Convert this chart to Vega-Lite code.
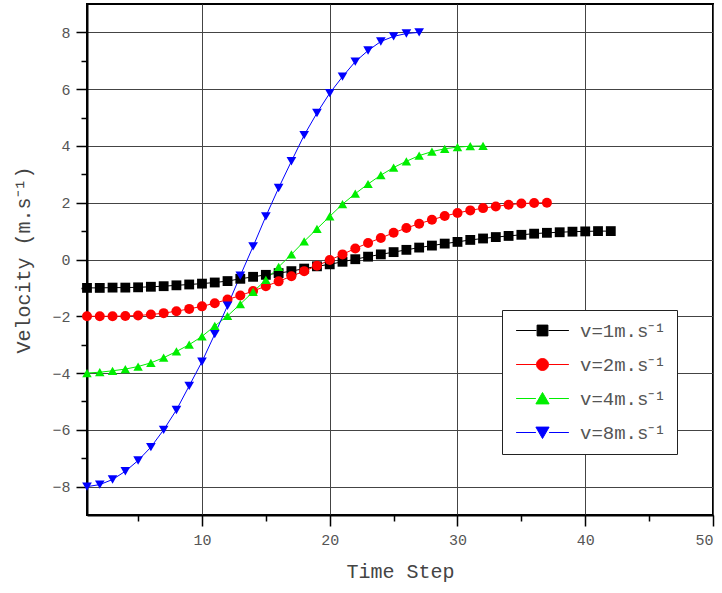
{
  "$schema": "https://vega.github.io/schema/vega-lite/v6.json",
  "width": 626,
  "height": 511,
  "autosize": "none",
  "padding": {"left": 87, "top": 4, "right": 9, "bottom": 78},
  "background": "white",
  "config": {
    "view": {"stroke": "black", "strokeWidth": 2},
    "font": "Liberation Mono"
  },
  "data": {"values": [
    {"s":"v=1m.s⁻¹","t":1,"v":-1.00},{"s":"v=1m.s⁻¹","t":2,"v":-1.00},{"s":"v=1m.s⁻¹","t":3,"v":-0.99},{"s":"v=1m.s⁻¹","t":4,"v":-0.99},{"s":"v=1m.s⁻¹","t":5,"v":-0.98},{"s":"v=1m.s⁻¹","t":6,"v":-0.96},{"s":"v=1m.s⁻¹","t":7,"v":-0.94},{"s":"v=1m.s⁻¹","t":8,"v":-0.91},{"s":"v=1m.s⁻¹","t":9,"v":-0.88},{"s":"v=1m.s⁻¹","t":10,"v":-0.85},{"s":"v=1m.s⁻¹","t":11,"v":-0.81},{"s":"v=1m.s⁻¹","t":12,"v":-0.76},{"s":"v=1m.s⁻¹","t":13,"v":-0.68},{"s":"v=1m.s⁻¹","t":14,"v":-0.61},{"s":"v=1m.s⁻¹","t":15,"v":-0.54},{"s":"v=1m.s⁻¹","t":16,"v":-0.48},{"s":"v=1m.s⁻¹","t":17,"v":-0.41},{"s":"v=1m.s⁻¹","t":18,"v":-0.32},{"s":"v=1m.s⁻¹","t":19,"v":-0.24},{"s":"v=1m.s⁻¹","t":20,"v":-0.17},{"s":"v=1m.s⁻¹","t":21,"v":-0.08},{"s":"v=1m.s⁻¹","t":22,"v":0.01},{"s":"v=1m.s⁻¹","t":23,"v":0.10},{"s":"v=1m.s⁻¹","t":24,"v":0.18},{"s":"v=1m.s⁻¹","t":25,"v":0.26},{"s":"v=1m.s⁻¹","t":26,"v":0.34},{"s":"v=1m.s⁻¹","t":27,"v":0.42},{"s":"v=1m.s⁻¹","t":28,"v":0.49},{"s":"v=1m.s⁻¹","t":29,"v":0.56},{"s":"v=1m.s⁻¹","t":30,"v":0.62},{"s":"v=1m.s⁻¹","t":31,"v":0.69},{"s":"v=1m.s⁻¹","t":32,"v":0.74},{"s":"v=1m.s⁻¹","t":33,"v":0.79},{"s":"v=1m.s⁻¹","t":34,"v":0.83},{"s":"v=1m.s⁻¹","t":35,"v":0.87},{"s":"v=1m.s⁻¹","t":36,"v":0.91},{"s":"v=1m.s⁻¹","t":37,"v":0.94},{"s":"v=1m.s⁻¹","t":38,"v":0.96},{"s":"v=1m.s⁻¹","t":39,"v":0.98},{"s":"v=1m.s⁻¹","t":40,"v":0.99},{"s":"v=1m.s⁻¹","t":41,"v":1.00},{"s":"v=1m.s⁻¹","t":42,"v":1.00},
    {"s":"v=2m.s⁻¹","t":1,"v":-2.00},{"s":"v=2m.s⁻¹","t":2,"v":-2.00},{"s":"v=2m.s⁻¹","t":3,"v":-2.00},{"s":"v=2m.s⁻¹","t":4,"v":-1.99},{"s":"v=2m.s⁻¹","t":5,"v":-1.97},{"s":"v=2m.s⁻¹","t":6,"v":-1.94},{"s":"v=2m.s⁻¹","t":7,"v":-1.89},{"s":"v=2m.s⁻¹","t":8,"v":-1.82},{"s":"v=2m.s⁻¹","t":9,"v":-1.74},{"s":"v=2m.s⁻¹","t":10,"v":-1.65},{"s":"v=2m.s⁻¹","t":11,"v":-1.54},{"s":"v=2m.s⁻¹","t":12,"v":-1.41},{"s":"v=2m.s⁻¹","t":13,"v":-1.27},{"s":"v=2m.s⁻¹","t":14,"v":-1.11},{"s":"v=2m.s⁻¹","t":15,"v":-0.94},{"s":"v=2m.s⁻¹","t":16,"v":-0.77},{"s":"v=2m.s⁻¹","t":17,"v":-0.59},{"s":"v=2m.s⁻¹","t":18,"v":-0.41},{"s":"v=2m.s⁻¹","t":19,"v":-0.22},{"s":"v=2m.s⁻¹","t":20,"v":-0.02},{"s":"v=2m.s⁻¹","t":21,"v":0.18},{"s":"v=2m.s⁻¹","t":22,"v":0.39},{"s":"v=2m.s⁻¹","t":23,"v":0.58},{"s":"v=2m.s⁻¹","t":24,"v":0.76},{"s":"v=2m.s⁻¹","t":25,"v":0.94},{"s":"v=2m.s⁻¹","t":26,"v":1.11},{"s":"v=2m.s⁻¹","t":27,"v":1.26},{"s":"v=2m.s⁻¹","t":28,"v":1.40},{"s":"v=2m.s⁻¹","t":29,"v":1.53},{"s":"v=2m.s⁻¹","t":30,"v":1.64},{"s":"v=2m.s⁻¹","t":31,"v":1.73},{"s":"v=2m.s⁻¹","t":32,"v":1.81},{"s":"v=2m.s⁻¹","t":33,"v":1.87},{"s":"v=2m.s⁻¹","t":34,"v":1.93},{"s":"v=2m.s⁻¹","t":35,"v":1.97},{"s":"v=2m.s⁻¹","t":36,"v":1.99},{"s":"v=2m.s⁻¹","t":37,"v":2.00},
    {"s":"v=4m.s⁻¹","t":1,"v":-4.00},{"s":"v=4m.s⁻¹","t":2,"v":-3.97},{"s":"v=4m.s⁻¹","t":3,"v":-3.92},{"s":"v=4m.s⁻¹","t":4,"v":-3.86},{"s":"v=4m.s⁻¹","t":5,"v":-3.77},{"s":"v=4m.s⁻¹","t":6,"v":-3.64},{"s":"v=4m.s⁻¹","t":7,"v":-3.46},{"s":"v=4m.s⁻¹","t":8,"v":-3.24},{"s":"v=4m.s⁻¹","t":9,"v":-3.00},{"s":"v=4m.s⁻¹","t":10,"v":-2.71},{"s":"v=4m.s⁻¹","t":11,"v":-2.34},{"s":"v=4m.s⁻¹","t":12,"v":-1.99},{"s":"v=4m.s⁻¹","t":13,"v":-1.57},{"s":"v=4m.s⁻¹","t":14,"v":-1.14},{"s":"v=4m.s⁻¹","t":15,"v":-0.72},{"s":"v=4m.s⁻¹","t":16,"v":-0.26},{"s":"v=4m.s⁻¹","t":17,"v":0.18},{"s":"v=4m.s⁻¹","t":18,"v":0.64},{"s":"v=4m.s⁻¹","t":19,"v":1.08},{"s":"v=4m.s⁻¹","t":20,"v":1.52},{"s":"v=4m.s⁻¹","t":21,"v":1.95},{"s":"v=4m.s⁻¹","t":22,"v":2.32},{"s":"v=4m.s⁻¹","t":23,"v":2.66},{"s":"v=4m.s⁻¹","t":24,"v":2.97},{"s":"v=4m.s⁻¹","t":25,"v":3.24},{"s":"v=4m.s⁻¹","t":26,"v":3.46},{"s":"v=4m.s⁻¹","t":27,"v":3.66},{"s":"v=4m.s⁻¹","t":28,"v":3.80},{"s":"v=4m.s⁻¹","t":29,"v":3.90},{"s":"v=4m.s⁻¹","t":30,"v":3.96},{"s":"v=4m.s⁻¹","t":31,"v":3.99},{"s":"v=4m.s⁻¹","t":32,"v":4.00},
    {"s":"v=8m.s⁻¹","t":1,"v":-8.00},{"s":"v=8m.s⁻¹","t":2,"v":-7.93},{"s":"v=8m.s⁻¹","t":3,"v":-7.75},{"s":"v=8m.s⁻¹","t":4,"v":-7.46},{"s":"v=8m.s⁻¹","t":5,"v":-7.08},{"s":"v=8m.s⁻¹","t":6,"v":-6.61},{"s":"v=8m.s⁻¹","t":7,"v":-6.00},{"s":"v=8m.s⁻¹","t":8,"v":-5.30},{"s":"v=8m.s⁻¹","t":9,"v":-4.45},{"s":"v=8m.s⁻¹","t":10,"v":-3.60},{"s":"v=8m.s⁻¹","t":11,"v":-2.63},{"s":"v=8m.s⁻¹","t":12,"v":-1.63},{"s":"v=8m.s⁻¹","t":13,"v":-0.57},{"s":"v=8m.s⁻¹","t":14,"v":0.46},{"s":"v=8m.s⁻¹","t":15,"v":1.52},{"s":"v=8m.s⁻¹","t":16,"v":2.52},{"s":"v=8m.s⁻¹","t":17,"v":3.46},{"s":"v=8m.s⁻¹","t":18,"v":4.38},{"s":"v=8m.s⁻¹","t":19,"v":5.16},{"s":"v=8m.s⁻¹","t":20,"v":5.86},{"s":"v=8m.s⁻¹","t":21,"v":6.44},{"s":"v=8m.s⁻¹","t":22,"v":6.97},{"s":"v=8m.s⁻¹","t":23,"v":7.36},{"s":"v=8m.s⁻¹","t":24,"v":7.68},{"s":"v=8m.s⁻¹","t":25,"v":7.86},{"s":"v=8m.s⁻¹","t":26,"v":7.96},{"s":"v=8m.s⁻¹","t":27,"v":8.00}
  ]},
  "encoding": {
    "color": {
      "field": "s", "type": "nominal",
      "scale": {"domain": ["v=1m.s⁻¹","v=2m.s⁻¹","v=4m.s⁻¹","v=8m.s⁻¹"], "range": ["#000000","#ff0000","#00ee00","#0000ff"]},
      "legend": {
        "orient": "none", "legendX": 415, "legendY": 306,
        "title": null,
        "strokeColor": "#222", "fillColor": "white", "padding": 11,
        "labelFont": "Liberation Mono", "labelFontSize": 19, "labelColor": "#555",
        "symbolSize": 144, "symbolOffset": 20, "labelOffset": 28, "rowPadding": 14,
        "symbolStrokeWidth": 1, "symbolOpacity": 1,
        "encode": {"symbols": {"update": {
          "shape": {"signal": "indexof(datum.value,'=1m')>=0 ? 'M-4.4,0H-1M1,0H4.4M-0.9,-0.9H0.9V0.9H-0.9Z' : indexof(datum.value,'=2m')>=0 ? 'M-4.4,0H-1M1,0H4.4M-1,0A1,1,0,1,1,1,0A1,1,0,1,1,-1,0Z' : indexof(datum.value,'=4m')>=0 ? 'M-4.4,0H-1.1M1.1,0H4.4M0,-1L1.1,0.9H-1.1Z' : 'M-4.4,0H-1.1M1.1,0H4.4M0,1L1.1,-0.9H-1.1Z'"},
          "stroke": {"scale": "color", "field": "value"},
          "fill": {"scale": "color", "field": "value"},
          "strokeWidth": {"value": 1},
          "size": {"value": 144},
          "opacity": {"value": 1}
        }}}
      }
    }
  },
  "layer": [
    {
      "mark": {"type": "line", "strokeWidth": 1},
      "encoding": {
        "x": {"field": "t", "type": "quantitative", "scale": {"domain": [1, 50], "nice": false, "zero": false},
          "axis": {"orient": "bottom", "values": [5,15,25,35,45], "labels": false, "grid": false, "domain": false, "tickSize": 6, "tickColor": "black", "tickWidth": 1.5, "title": null}},
        "y": {"field": "v", "type": "quantitative", "scale": {"domain": [-9, 9], "nice": false, "zero": false},
          "axis": {"orient": "left", "values": [-7,-5,-3,-1,1,3,5,7], "labels": false, "grid": false, "domain": false, "tickSize": 6, "tickColor": "black", "tickWidth": 1.5, "title": null}},
        "detail": {"field": "s"}
      }
    },
    {
      "mark": {"type": "point", "filled": true, "opacity": 1},
      "encoding": {
        "x": {"field": "t", "type": "quantitative",
          "axis": {"orient": "bottom", "values": [10,20,30,40,50], "grid": true, "gridColor": "#444", "gridWidth": 1,
            "domain": true, "domainColor": "black", "domainWidth": 2, "tickSize": 11, "tickColor": "black", "tickWidth": 1.5,
            "labelFont": "Liberation Mono", "labelFontSize": 15, "labelColor": "#555", "labelPadding": 6,
            "title": "Time Step", "titleFont": "Liberation Mono", "titleFontSize": 20, "titleFontWeight": "normal", "titleColor": "#444", "titlePadding": 14}},
        "y": {"field": "v", "type": "quantitative",
          "axis": {"orient": "left", "values": [-8,-6,-4,-2,0,2,4,6,8], "grid": true, "gridColor": "#444", "gridWidth": 1,
            "domain": true, "domainColor": "black", "domainWidth": 2, "tickSize": 11, "tickColor": "black", "tickWidth": 1.5,
            "labelFont": "Liberation Mono", "labelFontSize": 15, "labelColor": "#555", "labelPadding": 6,
            "title": "Velocity (m.s⁻¹)", "titleFont": "Liberation Mono", "titleFontSize": 20, "titleFontWeight": "normal", "titleColor": "#444", "titlePadding": 18}},
        "shape": {"field": "s", "type": "nominal",
          "scale": {"domain": ["v=8m.s⁻¹","v=4m.s⁻¹","v=2m.s⁻¹","v=1m.s⁻¹"], "range": ["triangle-down","triangle-up","circle","square"]}, "legend": null},
        "size": {"field": "s", "type": "nominal",
          "scale": {"domain": ["v=2m.s⁻¹","v=1m.s⁻¹","v=8m.s⁻¹","v=4m.s⁻¹"], "range": [100, 90, 140, 140]}, "legend": null}
      }
    }
  ],
  "resolve": {"axis": {"x": "independent", "y": "independent"}}
}
